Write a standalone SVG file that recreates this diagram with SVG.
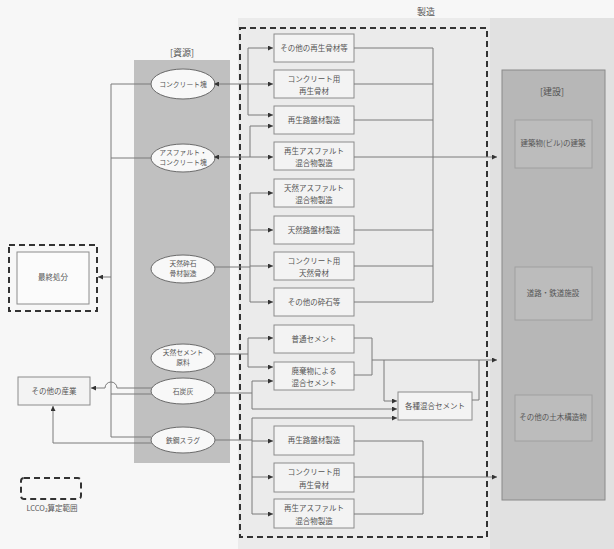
<svg xmlns="http://www.w3.org/2000/svg" width="614" height="549" viewBox="0 0 614 549">
<defs>
<style>
.box{fill:#f3f3f3;stroke:#8c8c8c;stroke-width:1}
.rbox{fill:#bcbcbc;stroke:#a0a0a0;stroke-width:1}
.ov{fill:#f8f8f8;stroke:#6a6a6a;stroke-width:1}
.t{font-family:"Noto Sans CJK JP","Noto Sans",sans-serif;font-size:7.5px;fill:#555;text-anchor:middle}
.to{font-family:"Noto Sans CJK JP","Noto Sans",sans-serif;font-size:6.8px;fill:#555;text-anchor:middle}
.h{font-family:"Noto Sans CJK JP","Noto Sans",sans-serif;font-size:9px;fill:#555;text-anchor:middle}
.ln{fill:none;stroke:#7a7a7a;stroke-width:1}
.dash{fill:none;stroke:#333;stroke-width:2;stroke-dasharray:6 4}
</style>
<marker id="ah" viewBox="0 0 6 6" refX="6" refY="3" markerWidth="5" markerHeight="5" orient="auto" markerUnits="userSpaceOnUse"><path d="M0,0L6,3L0,6z" fill="#333"/></marker>
</defs>
<rect x="0" y="0" width="614" height="549" fill="#f7f7f7"/>
<rect x="238" y="18" width="252" height="531" fill="#ebebeb"/>
<rect x="490" y="18" width="124" height="531" fill="#e1e1e1"/>
<rect x="134" y="60" width="96" height="403" fill="#c0c0c0"/>
<text class="h" x="182" y="56">[資源]</text>
<text class="h" x="426" y="15">製造</text>
<rect class="dash" x="240" y="28" width="247" height="509"/>

<g id="construction">
<rect x="502" y="70" width="103" height="430" fill="#b7b7b7" stroke="#8a8a8a"/>
<text class="h" x="552" y="95">[建設]</text>
</g>
<g id="r1"><rect class="rbox" x="515" y="120" width="77" height="48"/><text class="t" x="553" y="146">建築物(ビル)の建築</text></g>
<g id="r2"><rect class="rbox" x="515" y="267" width="77" height="53"/><text class="t" x="553" y="296">道路・鉄道施設</text></g>
<g id="r3"><rect class="rbox" x="515" y="395" width="77" height="46"/><text class="t" x="553" y="420">その他の土木構造物</text></g>

<g id="disposal"><rect class="dash" x="9" y="245" width="88" height="66"/><rect x="17" y="252" width="72" height="52" fill="#fbfbfb" stroke="#8c8c8c"/><text class="t" x="53" y="280">最終処分</text></g>
<g id="otherind"><rect class="box" x="18" y="377" width="72" height="28"/><text class="t" x="54" y="394">その他の産業</text></g>
<g id="legend"><rect class="dash" x="21" y="478" width="60" height="21" rx="3"/><text class="t" x="52" y="511">LCCO₂算定範囲</text></g>

<g id="o1"><ellipse class="ov" cx="183" cy="84" rx="32" ry="15"/><text class="to" x="183" y="87">コンクリート塊</text></g>
<g id="o2"><ellipse class="ov" cx="183" cy="158" rx="32" ry="14"/><text class="to" x="183" y="155">アスファルト・</text><text class="to" x="183" y="165">コンクリート塊</text></g>
<g id="o3"><ellipse class="ov" cx="183" cy="269" rx="32" ry="14"/><text class="to" x="183" y="266">天然砕石</text><text class="to" x="183" y="276">骨材製造</text></g>
<g id="o4"><ellipse class="ov" cx="183" cy="358" rx="32" ry="14"/><text class="to" x="183" y="355">天然セメント</text><text class="to" x="183" y="365">原料</text></g>
<g id="o5"><ellipse class="ov" cx="183" cy="391" rx="32" ry="13"/><text class="to" x="183" y="394">石炭灰</text></g>
<g id="o6"><ellipse class="ov" cx="183" cy="440" rx="32" ry="13"/><text class="to" x="183" y="443">鉄鋼スラグ</text></g>

<g id="b1"><rect class="box" x="274" y="34" width="80" height="28"/><text class="t" x="314" y="51">その他の再生骨材等</text></g>
<g id="b2"><rect class="box" x="274" y="70" width="80" height="28"/><text class="t" x="314" y="82">コンクリート用</text><text class="t" x="314" y="94">再生骨材</text></g>
<g id="b3"><rect class="box" x="274" y="106" width="80" height="28"/><text class="t" x="314" y="123">再生路盤材製造</text></g>
<g id="b4"><rect class="box" x="274" y="142" width="80" height="28"/><text class="t" x="314" y="154">再生アスファルト</text><text class="t" x="314" y="166">混合物製造</text></g>
<g id="b5"><rect class="box" x="274" y="179" width="80" height="28"/><text class="t" x="314" y="191">天然アスファルト</text><text class="t" x="314" y="203">混合物製造</text></g>
<g id="b6"><rect class="box" x="274" y="216" width="80" height="28"/><text class="t" x="314" y="233">天然路盤材製造</text></g>
<g id="b7"><rect class="box" x="274" y="252" width="80" height="28"/><text class="t" x="314" y="264">コンクリート用</text><text class="t" x="314" y="276">天然骨材</text></g>
<g id="b8"><rect class="box" x="274" y="288" width="80" height="28"/><text class="t" x="314" y="305">その他の砕石等</text></g>
<g id="b9"><rect class="box" x="274" y="325" width="80" height="28"/><text class="t" x="314" y="342">普通セメント</text></g>
<g id="b10"><rect class="box" x="274" y="362" width="80" height="28"/><text class="t" x="314" y="374">廃棄物による</text><text class="t" x="314" y="386">混合セメント</text></g>
<g id="b11"><rect class="box" x="398" y="392" width="74" height="28"/><text class="t" x="435" y="409">各種混合セメント</text></g>
<g id="b12"><rect class="box" x="274" y="426" width="80" height="29"/><text class="t" x="314" y="443">再生路盤材製造</text></g>
<g id="b13"><rect class="box" x="274" y="463" width="80" height="29"/><text class="t" x="314" y="475">コンクリート用</text><text class="t" x="314" y="488">再生骨材</text></g>
<g id="b14"><rect class="box" x="274" y="499" width="80" height="29"/><text class="t" x="314" y="511">再生アスファルト</text><text class="t" x="314" y="524">混合物製造</text></g>

<g id="connectors">
<path class="ln" d="M111 84H151M111 158H151M151 437H111V84"/>
<path class="ln" d="M111 277H98" marker-end="url(#ah)"/>
<path class="ln" d="M111 394H152"/>
<path class="ln" d="M152 388H117A6 6 0 0 0 105 388H91" marker-end="url(#ah)"/>
<path class="ln" d="M152 443H53V406" marker-end="url(#ah)"/>

<path class="ln" d="M248 84H214" marker-end="url(#ah)"/>
<path class="ln" d="M248 84H273" marker-end="url(#ah)"/>
<path class="ln" d="M248 84V48H273" marker-end="url(#ah)"/>
<path class="ln" d="M248 84V115H273" marker-end="url(#ah)"/>

<path class="ln" d="M250 157H214" marker-end="url(#ah)"/>
<path class="ln" d="M250 157H273" marker-end="url(#ah)"/>
<path class="ln" d="M250 157V126H273" marker-end="url(#ah)"/>

<path class="ln" d="M215 267H250M250 193V302"/>
<path class="ln" d="M250 193H273" marker-end="url(#ah)"/>
<path class="ln" d="M250 230H273" marker-end="url(#ah)"/>
<path class="ln" d="M250 266H273" marker-end="url(#ah)"/>
<path class="ln" d="M250 302H273" marker-end="url(#ah)"/>

<path class="ln" d="M215 354H248M248 338V367"/>
<path class="ln" d="M248 338H273" marker-end="url(#ah)"/>
<path class="ln" d="M248 367H273" marker-end="url(#ah)"/>

<path class="ln" d="M215 393H252M252 381V409"/>
<path class="ln" d="M252 381H273" marker-end="url(#ah)"/>
<path class="ln" d="M252 409H397" marker-end="url(#ah)"/>

<path class="ln" d="M215 440H252M252 418V514"/>
<path class="ln" d="M252 418H397" marker-end="url(#ah)"/>
<path class="ln" d="M252 441H273" marker-end="url(#ah)"/>
<path class="ln" d="M252 477H273" marker-end="url(#ah)"/>
<path class="ln" d="M252 514H273" marker-end="url(#ah)"/>

<path class="ln" d="M354 48H433M354 84H433M354 120H433M354 230H433M354 266H433M354 302H433M433 48V302"/>
<path class="ln" d="M354 157H497" marker-end="url(#ah)"/>

<path class="ln" d="M354 338H372V375H354"/>
<path class="ln" d="M372 360H497" marker-end="url(#ah)"/>
<path class="ln" d="M384 360V401H397" marker-end="url(#ah)"/>
<path class="ln" d="M472 400H479V360"/>

<path class="ln" d="M354 441H423V514H354"/>
<path class="ln" d="M354 477H497" marker-end="url(#ah)"/>
</g>
</svg>
